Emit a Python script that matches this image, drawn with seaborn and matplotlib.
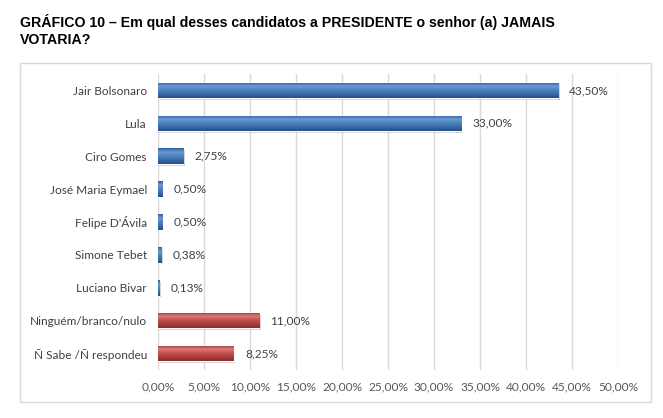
import matplotlib
matplotlib.use("Agg")
import matplotlib.pyplot as plt
import seaborn as sns
import numpy as np
import pandas as pd
from matplotlib.patches import Rectangle
from matplotlib.colors import LinearSegmentedColormap

categories = ["Jair Bolsonaro", "Lula", "Ciro Gomes", "José Maria Eymael", "Felipe D'Ávila",
              "Simone Tebet", "Luciano Bivar", "Ninguém/branco/nulo", "Ñ Sabe /Ñ respondeu"]
values = [43.50, 33.00, 2.75, 0.50, 0.50, 0.38, 0.13, 11.00, 8.25]
groups = ["cand"] * 7 + ["outro"] * 2
xticks = [0, 5, 10, 15, 20, 25, 30, 35, 40, 45, 50]

sns.set_theme(style="white")
plt.rcParams['font.family'] = ['Lato', 'DejaVu Sans']

W, H = 663, 418
fig = plt.figure(figsize=(W / 100, H / 100), dpi=100)
ax = fig.add_axes([158 / W, 1 - 370 / H, (618 - 158) / W, (370 - 74) / H])

df = pd.DataFrame({"cat": categories, "val": values, "grp": groups})
palette = {"cand": "#4F81BD", "outro": "#C0504D"}
sns.barplot(data=df, y="cat", x="val", hue="grp", palette=palette, orient="h",
            width=0.47, dodge=False, legend=False, ax=ax, saturation=1)

cmaps = {
    "cand": LinearSegmentedColormap.from_list("b", ["#2E5F9A", "#6A9BD6", "#4F81BD", "#3A6BA8", "#254E84"]),
    "outro": LinearSegmentedColormap.from_list("r", ["#9C3532", "#E07B78", "#C0504D", "#A83F3C", "#8A2C2A"]),
}
grad = np.linspace(0, 1, 64).reshape(-1, 1)
for patch, g in zip(ax.patches, groups):
    x0, y0 = patch.get_x(), patch.get_y()
    w, h = patch.get_width(), patch.get_height()
    sh = Rectangle((x0 + 0.15, y0 + 0.05), w, h, color="#9A9A9A", alpha=0.5, zorder=1.5, lw=0)
    ax.add_patch(sh)
    patch.set_zorder(2)
    im = ax.imshow(grad, aspect="auto", cmap=cmaps[g], extent=(x0, x0 + w, y0 + h, y0),
                   zorder=2.5, interpolation="bicubic")
    im.set_clip_path(patch)

for i, v in enumerate(values):
    ax.annotate(f"{v:.2f}%".replace(".", ","), xy=(v, i), xytext=(8, 0),
                textcoords="offset points", va="center", ha="left",
                fontsize=8.6, color="#404040")

ax.set_xlim(0, 50)
ax.set_ylim(len(categories) - 0.5, -0.5)
ax.set_xticks(xticks)
ax.set_xticklabels([f"{t:.2f}%".replace(".", ",") for t in xticks], fontsize=8.6, color="#595959")
ax.tick_params(axis="y", labelsize=8.6, labelcolor="#404040", length=0, pad=8)
ax.tick_params(axis="x", length=0, pad=8)
ax.set_xlabel("")
ax.set_ylabel("")
ax.grid(axis="x", color="#D9D9D9", lw=1)
ax.set_axisbelow(True)
for s in ax.spines.values():
    s.set_visible(False)

fig.patches.append(Rectangle((20 / W, 1 - 402 / H), (651 - 20) / W, (402 - 63) / H,
                             transform=fig.transFigure, fill=False, ec="#D9D9D9", lw=1))

fig.text(20 / W, 1 - 14 / H, "GRÁFICO 10 – Em qual desses candidatos a PRESIDENTE o senhor (a) JAMAIS\nVOTARIA?",
         ha="left", va="top", fontsize=10.2, fontweight="bold", color="black",
         family=["Liberation Sans", "DejaVu Sans"], linespacing=1.28)

fig.savefig("out.png", dpi=100)
